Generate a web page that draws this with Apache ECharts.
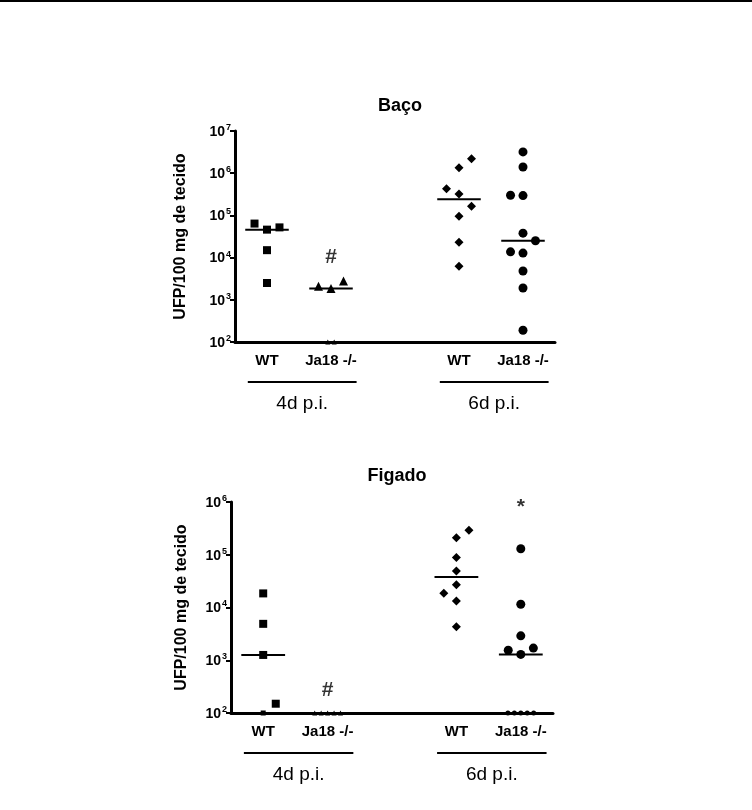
<!DOCTYPE html>
<html><head><meta charset="utf-8">
<script src="https://cdn.jsdelivr.net/npm/echarts@6/dist/echarts.min.js"></script>
<style>html,body{margin:0;padding:0;background:#fff}#c{width:752px;height:810px}</style>
</head><body><div id="c"></div>
<script>
// ---------- data ----------
const groupLabels = ['WT', 'Ja18 -/-', 'WT', 'Ja18 -/-'];
const timeLabels = ['4d p.i.', '6d p.i.'];
const panelTitles = ['Baço', 'Figado'];
const yAxisName = 'UFP/100 mg de tecido';

// Baço (spleen)
const bacoTickExp = [2, 3, 4, 5, 6, 7];
const bacoWT4d = [46000, 52000, 64000, 15000, 2500];
const bacoJa4d = [1850, 2800, 2100, 100, 100];
const bacoWT6d = [1350000, 2200000, 320000, 430000, 96000, 165000, 23000, 6200];
const bacoJa6d = [3200000, 1400000, 38000, 25000, 295000, 300000, 12800, 13700, 4800, 1900, 190];
const bacoMarks = [{ group: 1, value: 10000, text: '#' }];

// Figado (liver)
const figTickExp = [2, 3, 4, 5, 6];
const figWT4d = [100, 18500, 4900, 1260, 150];
const figJa4d = [100, 100, 100, 100, 100];
const figWT6d = [210000, 290000, 89000, 49000, 27000, 18700, 13300, 4300];
const figJa6d = [130000, 11500, 2900, 1290, 1700, 1550, 100, 100, 100, 100, 100];
const figMarks = [{ group: 1, value: 270, text: '#' }, { group: 3, value: 780000, text: '*' }];

// ---------- layout ----------
const FONT = '"Liberation Sans", Arial, Helvetica, sans-serif';
const centers = [0.5, 1.5, 3.5, 4.5];
const shapes = ['rect', 'triangle', 'diamond', 'circle'];
const panels = [
  { title: panelTitles[0], exps: bacoTickExp, groups: [bacoWT4d, bacoJa4d, bacoWT6d, bacoJa6d], marks: bacoMarks,
    grid: { left: 235, top: 131, width: 320, height: 211 }, titleTop: 92, nameGap: 46, sizes: [8, 9, 9, 9] },
  { title: panelTitles[1], exps: figTickExp, groups: [figWT4d, figJa4d, figWT6d, figJa6d], marks: figMarks,
    grid: { left: 231, top: 502, width: 322, height: 211 }, titleTop: 462, nameGap: 41, sizes: [8, 8, 9, 9] }
];

function median(arr) {
  const s = arr.slice().sort((a, b) => a - b);
  const n = s.length;
  return n % 2 ? s[(n - 1) / 2] : (s[n / 2 - 1] + s[n / 2]) / 2;
}

function layoutGroup(values, pxPerDecade, minVal) {
  const laneW = 0.195, baseW = 0.1, thr = 12;
  const base = values.filter(v => v <= minVal);
  const pts = [];
  base.forEach((v, k) => pts.push({ v: minVal, off: (k - (base.length - 1) / 2) * baseW, base: true }));
  const placed = base.length ? [{ lane: 0, v: minVal }] : [];
  let toggle = 1;
  values.forEach(v => {
    if (v <= minVal) return;
    const free = lane => !placed.some(p => p.lane === lane &&
      Math.abs(Math.log10(p.v) - Math.log10(v)) * pxPerDecade < thr);
    let lane = 0;
    if (!free(0)) {
      const a = toggle, b = -toggle;
      lane = free(a) ? a : (free(b) ? b : (free(2 * a) ? 2 * a : 2 * b));
      toggle = -toggle;
    }
    placed.push({ lane, v });
    pts.push({ v, off: lane * laneW, base: false });
  });
  return pts;
}

const grids = [], xAxes = [], yAxes = [], series = [], titles = [];
panels.forEach((p, pi) => {
  const minV = Math.pow(10, p.exps[0]);
  const maxV = Math.pow(10, p.exps[p.exps.length - 1]);
  const pxPerDecade = p.grid.height / (p.exps.length - 1);
  grids.push(p.grid);
  titles.push({
    text: p.title, left: p.grid.left + p.grid.width / 2, top: p.titleTop, textAlign: 'center',
    textStyle: { fontFamily: FONT, fontWeight: 'bold', fontSize: 18, color: '#000' }
  });
  xAxes.push({
    type: 'value', gridIndex: pi, min: 0, max: 5, interval: 0.5,
    axisLine: { onZero: false, lineStyle: { color: '#000', width: 3 } },
    axisTick: { show: false }, splitLine: { show: false },
    axisLabel: {
      margin: 11, color: '#000', fontFamily: FONT, fontWeight: 'bold', fontSize: 15,
      formatter: v => { const i = centers.indexOf(v); return i >= 0 ? groupLabels[i] : ''; }
    }
  });
  yAxes.push({
    type: 'log', logBase: 10, gridIndex: pi, min: minV, max: maxV,
    axisLine: { show: true, lineStyle: { color: '#000', width: 3 } },
    axisTick: { show: true, length: 5, lineStyle: { color: '#000', width: 2 } },
    splitLine: { show: false },
    name: yAxisName, nameLocation: 'middle', nameGap: p.nameGap,
    nameTextStyle: { fontFamily: FONT, fontWeight: 'bold', fontSize: 16, color: '#000' },
    axisLabel: {
      margin: 4,
      formatter: v => {
        const e = Math.round(Math.log10(v));
        return p.exps.indexOf(e) >= 0 ? '{b|10}{s|' + e + '}' : '';
      },
      rich: {
        b: { fontFamily: FONT, fontWeight: 'bold', fontSize: 14, color: '#000', lineHeight: 16, verticalAlign: 'bottom' },
        s: { fontFamily: FONT, fontWeight: 'bold', fontSize: 9, color: '#000', lineHeight: 10, verticalAlign: 'top', padding: [0, 0, 0, 1] }
      }
    }
  });
  p.groups.forEach((vals, gi) => {
    const pts = layoutGroup(vals, pxPerDecade, minV);
    series.push({
      type: 'scatter', xAxisIndex: pi, yAxisIndex: pi, symbol: shapes[gi], clip: false, silent: true,
      itemStyle: { color: '#000', opacity: 1 },
      data: pts.map(q => ({ value: [centers[gi] + q.off, q.v], symbolSize: q.base ? 5 : p.sizes[gi] }))
    });
    const med = Math.max(median(vals), minV);
    series.push({
      type: 'line', xAxisIndex: pi, yAxisIndex: pi, symbol: 'none', silent: true,
      lineStyle: { color: '#000', width: 2 },
      data: [[centers[gi] - 0.34, med], [centers[gi] + 0.34, med]]
    });
  });
  series.push({
    type: 'scatter', xAxisIndex: pi, yAxisIndex: pi, symbolSize: 2, silent: true,
    itemStyle: { color: 'rgba(0,0,0,0)' },
    label: { show: true, position: 'inside', color: '#000', fontFamily: FONT, fontSize: 21, fontWeight: 'bold',
      formatter: d => d.data.text },
    data: p.marks.map(m => ({ value: [centers[m.group], m.value], text: m.text }))
  });
});

const chart = echarts.init(document.getElementById('c'));
chart.setOption({
  backgroundColor: '#fff', animation: false,
  title: titles, grid: grids, xAxis: xAxes, yAxis: yAxes, series: series
});

// group underline + time labels below axes
const spans = [[0.2, 1.9], [3.2, 4.9]];
const gfx = [{ type: 'rect', shape: { x: 0, y: 0, width: 752, height: 2 }, style: { fill: '#000' } }];
panels.forEach((p, pi) => {
  const minV = Math.pow(10, p.exps[0]);
  spans.forEach((s, si) => {
    const a = chart.convertToPixel({ gridIndex: pi }, [s[0], minV]);
    const b = chart.convertToPixel({ gridIndex: pi }, [s[1], minV]);
    gfx.push({ type: 'line', shape: { x1: a[0], y1: a[1] + 40, x2: b[0], y2: b[1] + 40 },
      style: { stroke: '#000', lineWidth: 2 } });
    gfx.push({ type: 'text', x: (a[0] + b[0]) / 2, y: a[1] + 62,
      style: { text: timeLabels[si], fontFamily: FONT, fontSize: 19, fill: '#000',
        align: 'center', verticalAlign: 'middle', textAlign: 'center', textVerticalAlign: 'middle' } });
  });
});
chart.setOption({ graphic: gfx });
</script></body></html>
